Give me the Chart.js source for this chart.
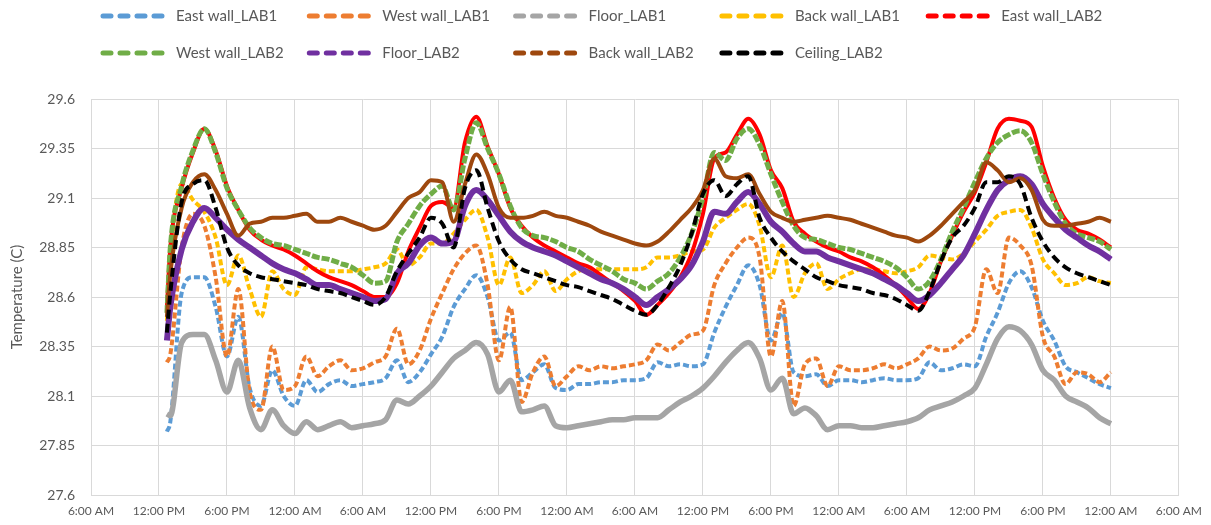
<!DOCTYPE html>
<html>
<head>
<meta charset="utf-8">
<title>Surface temperatures LAB1 / LAB2</title>
<script src="https://cdn.jsdelivr.net/npm/chart.js@4.4.1/dist/chart.umd.min.js"></script>
<style>
  html, body { margin: 0; padding: 0; background: #ffffff; }
  #wrap { width: 1211px; height: 525px; position: relative; }
</style>
</head>
<body>
<div id="wrap"><canvas id="chart" width="1211" height="525"></canvas></div>
<script>
// Logging time, in hours counted from 6:00 AM of the first day
const hours = [
  6.7,
  7, 8, 9, 10, 11, 12, 13, 14, 15, 16, 17, 18,
  19, 20, 21, 22, 23, 24, 25, 26, 27, 28, 29, 30,
  31, 32, 33, 34, 35, 36, 37, 38, 39, 40, 41, 42,
  43, 44, 45, 46, 47, 48, 49, 50, 51, 52, 53, 54,
  55, 56, 57, 58, 59, 60, 61, 62, 63, 64, 65, 66,
  67, 68, 69, 70, 71, 72, 73, 74, 75, 76, 77, 78,
  79, 80, 81, 82, 83, 84, 85, 86, 87, 88, 89, 90
];

// X-axis ticks (hours) and their clock labels
const xTickHours = [0, 6, 12, 18, 24, 30, 36, 42, 48, 54, 60, 66, 72, 78, 84, 90, 96];
const xTickLabels = [
  '6:00 AM', '12:00 PM', '6:00 PM', '12:00 AM',
  '6:00 AM', '12:00 PM', '6:00 PM', '12:00 AM',
  '6:00 AM', '12:00 PM', '6:00 PM', '12:00 AM',
  '6:00 AM', '12:00 PM', '6:00 PM', '12:00 AM',
  '6:00 AM'
];

// Y-axis tick labels (temperature, °C)
const yTickLabels = ['27.6', '27.85', '28.1', '28.35', '28.6', '28.85', '29.1', '29.35', '29.6'];

// Surface temperatures (°C)
const eastWallLab1 = [
  27.92,
  27.97, 28.62, 28.70, 28.70, 28.55, 28.30, 28.50, 28.14, 28.05, 28.23, 28.10, 28.05,
  28.18, 28.12, 28.16, 28.18, 28.15, 28.16, 28.17, 28.19, 28.28, 28.17, 28.22, 28.31,
  28.40, 28.55, 28.64, 28.71, 28.60, 28.38, 28.42, 28.18, 28.22, 28.26, 28.14, 28.13,
  28.16, 28.16, 28.17, 28.17, 28.18, 28.18, 28.19, 28.27, 28.25, 28.26, 28.25, 28.26,
  28.42, 28.55, 28.66, 28.76, 28.66, 28.38, 28.52, 28.22, 28.20, 28.21, 28.15, 28.18,
  28.18, 28.17, 28.18, 28.19, 28.18, 28.18, 28.19, 28.27, 28.23, 28.24, 28.26, 28.25,
  28.40, 28.52, 28.67, 28.73, 28.65, 28.48, 28.38, 28.25, 28.22, 28.19, 28.16, 28.14
];

const westWallLab1 = [
  28.27,
  28.31, 28.85, 29.02, 28.96, 28.70, 28.30, 28.64, 28.12, 28.03, 28.35, 28.13, 28.15,
  28.30, 28.20, 28.25, 28.28, 28.23, 28.24, 28.27, 28.30, 28.44, 28.26, 28.33, 28.49,
  28.62, 28.74, 28.82, 28.86, 28.66, 28.28, 28.55, 28.07, 28.22, 28.30, 28.15, 28.20,
  28.25, 28.23, 28.25, 28.24, 28.25, 28.26, 28.28, 28.36, 28.33, 28.37, 28.41, 28.43,
  28.66, 28.77, 28.85, 28.90, 28.80, 28.30, 28.58, 28.05, 28.26, 28.29, 28.15, 28.25,
  28.23, 28.23, 28.24, 28.26, 28.24, 28.26, 28.29, 28.35, 28.33, 28.34, 28.39, 28.45,
  28.74, 28.62, 28.90, 28.86, 28.76, 28.40, 28.30, 28.16, 28.22, 28.21, 28.17, 28.22
];

const floorLab1 = [
  28.01,
  28.00, 28.37, 28.41, 28.41, 28.28, 28.12, 28.28, 28.04, 27.93, 28.03, 27.95, 27.91,
  27.97, 27.93, 27.95, 27.97, 27.94, 27.95, 27.96, 27.98, 28.08, 28.06, 28.10, 28.15,
  28.22, 28.29, 28.33, 28.37, 28.31, 28.12, 28.18, 28.02, 28.03, 28.05, 27.95, 27.94,
  27.95, 27.96, 27.97, 27.98, 27.98, 27.99, 27.99, 27.99, 28.03, 28.07, 28.10, 28.14,
  28.20, 28.27, 28.33, 28.37, 28.29, 28.13, 28.19, 28.01, 28.04, 28.00, 27.93, 27.95,
  27.95, 27.94, 27.94, 27.95, 27.96, 27.97, 27.99, 28.03, 28.05, 28.07, 28.10, 28.14,
  28.26, 28.39, 28.45, 28.43, 28.36, 28.23, 28.18, 28.10, 28.07, 28.04, 27.99, 27.96
];

const backWallLab1 = [
  28.48,
  28.80, 29.17, 29.09, 29.03, 28.90, 28.66, 28.81, 28.64, 28.50, 28.73, 28.64, 28.61,
  28.75, 28.74, 28.73, 28.73, 28.73, 28.74, 28.75, 28.77, 28.84, 28.76, 28.80, 28.87,
  28.87, 28.92, 28.99, 29.04, 28.90, 28.66, 28.80, 28.62, 28.66, 28.73, 28.63, 28.69,
  28.73, 28.74, 28.74, 28.74, 28.74, 28.74, 28.75, 28.80, 28.80, 28.81, 28.83, 28.84,
  28.95, 29.00, 29.04, 29.07, 28.96, 28.70, 28.86, 28.60, 28.72, 28.77, 28.64, 28.69,
  28.72, 28.74, 28.74, 28.73, 28.72, 28.73, 28.75, 28.81, 28.80, 28.79, 28.82, 28.88,
  28.94, 29.01, 29.03, 29.04, 28.95, 28.79, 28.72, 28.66, 28.67, 28.70, 28.68, 28.67
];

const eastWallLab2 = [
  28.55,
  28.85, 29.15, 29.33, 29.45, 29.34, 29.16, 29.04, 28.94, 28.89, 28.86, 28.84, 28.81,
  28.77, 28.73, 28.70, 28.68, 28.66, 28.63, 28.60, 28.60, 28.67, 28.83, 28.95, 29.06,
  29.08, 29.05, 29.38, 29.51, 29.36, 29.22, 29.05, 28.96, 28.90, 28.86, 28.83, 28.80,
  28.77, 28.75, 28.71, 28.67, 28.63, 28.58, 28.51, 28.56, 28.62, 28.70, 28.82, 29.02,
  29.30, 29.33, 29.42, 29.50, 29.42, 29.24, 29.15, 28.98, 28.92, 28.88, 28.85, 28.83,
  28.80, 28.78, 28.75, 28.71, 28.66, 28.60, 28.54, 28.62, 28.78, 28.91, 29.03, 29.13,
  29.28, 29.45, 29.50, 29.49, 29.46, 29.26, 29.10, 28.99, 28.94, 28.92, 28.89, 28.85
];

const westWallLab2 = [
  28.52,
  28.85, 29.16, 29.34, 29.45, 29.33, 29.15, 29.04, 28.95, 28.90, 28.87, 28.86, 28.84,
  28.82, 28.80, 28.79, 28.77, 28.75, 28.71, 28.67, 28.68, 28.88, 28.97, 29.06, 29.12,
  29.16, 29.04, 29.30, 29.48, 29.35, 29.22, 29.06, 28.95, 28.91, 28.90, 28.88, 28.85,
  28.83, 28.79, 28.76, 28.73, 28.69, 28.67, 28.64, 28.68, 28.72, 28.80, 28.92, 29.10,
  29.33, 29.29, 29.40, 29.45, 29.37, 29.22, 29.08, 28.96, 28.90, 28.89, 28.87, 28.85,
  28.84, 28.82, 28.80, 28.78, 28.75, 28.70, 28.64, 28.68, 28.79, 28.93, 29.05, 29.18,
  29.30, 29.38, 29.42, 29.44, 29.38, 29.22, 29.08, 28.97, 28.92, 28.90, 28.88, 28.84
];

const floorLab2 = [
  28.38,
  28.55, 28.84, 28.98, 29.05, 29.00, 28.94, 28.89, 28.85, 28.81, 28.77, 28.74, 28.72,
  28.69, 28.66, 28.66, 28.64, 28.62, 28.60, 28.58, 28.59, 28.72, 28.77, 28.86, 28.90,
  28.87, 28.88, 29.06, 29.14, 29.09, 29.01, 28.93, 28.88, 28.85, 28.83, 28.81, 28.78,
  28.75, 28.72, 28.69, 28.67, 28.64, 28.60, 28.56, 28.60, 28.64, 28.69, 28.76, 28.88,
  29.03, 29.02, 29.08, 29.13, 29.07, 28.98, 28.93, 28.87, 28.83, 28.83, 28.80, 28.78,
  28.76, 28.74, 28.72, 28.69, 28.66, 28.62, 28.58, 28.61, 28.67, 28.74, 28.81, 28.92,
  29.04, 29.14, 29.19, 29.21, 29.17, 29.07, 29.00, 28.94, 28.90, 28.86, 28.83, 28.79
];

const backWallLab2 = [
  28.50,
  28.72, 29.05, 29.18, 29.22, 29.14, 29.02, 28.91, 28.97, 28.98, 29.00, 29.00, 29.01,
  29.02, 28.98, 28.98, 29.00, 28.98, 28.96, 28.94, 28.96, 29.03, 29.10, 29.13, 29.19,
  29.18, 28.98, 29.17, 29.32, 29.22, 29.05, 29.00, 29.00, 29.01, 29.03, 29.01, 29.00,
  28.98, 28.96, 28.93, 28.91, 28.89, 28.87, 28.86, 28.88, 28.93, 28.99, 29.05, 29.14,
  29.30, 29.21, 29.20, 29.22, 29.12, 29.03, 29.00, 28.98, 28.99, 29.00, 29.01, 29.00,
  28.99, 28.97, 28.95, 28.93, 28.91, 28.90, 28.88, 28.91, 28.96, 29.02, 29.08, 29.14,
  29.28, 29.24, 29.18, 29.20, 29.14, 28.99, 28.96, 28.96, 28.97, 28.98, 29.00, 28.98
];

const ceilingLab2 = [
  28.42,
  28.62, 29.08, 29.17, 29.19, 29.05, 28.85, 28.76, 28.72, 28.70, 28.69, 28.68, 28.67,
  28.66, 28.64, 28.63, 28.62, 28.60, 28.58, 28.56, 28.60, 28.73, 28.82, 28.90, 29.00,
  28.97, 28.85, 29.15, 29.24, 29.05, 28.88, 28.79, 28.74, 28.72, 28.70, 28.68, 28.66,
  28.65, 28.63, 28.61, 28.59, 28.56, 28.53, 28.51, 28.56, 28.65, 28.76, 28.92, 29.12,
  29.19, 29.11, 29.17, 29.21, 29.00, 28.90, 28.83, 28.78, 28.74, 28.70, 28.68, 28.66,
  28.65, 28.64, 28.62, 28.61, 28.59, 28.56, 28.53, 28.63, 28.78, 28.90, 28.96, 29.05,
  29.18, 29.18, 29.21, 29.17, 29.00, 28.88, 28.80, 28.75, 28.72, 28.70, 28.68, 28.66
];

const FONT = 'Lato, "Open Sans", "Liberation Sans", sans-serif';
const TEXT = '#595959';
const GRID = '#d9d9d9';

// series, in plotting order (later ones are drawn on top)
const series = [
  { label: 'East wall_LAB1', data: eastWallLab1, color: '#5b9bd5', width: 4,   dash: [6, 3] },
  { label: 'West wall_LAB1', data: westWallLab1, color: '#ed7d31', width: 4,   dash: [6, 3] },
  { label: 'Floor_LAB1',     data: floorLab1,    color: '#a5a5a5', width: 5.5, dash: [] },
  { label: 'Back wall_LAB1', data: backWallLab1, color: '#ffc000', width: 4,   dash: [6, 3] },
  { label: 'East wall_LAB2', data: eastWallLab2, color: '#ff0000', width: 4,   dash: [] },
  { label: 'West wall_LAB2', data: westWallLab2, color: '#70ad47', width: 5,   dash: [8, 2] },
  { label: 'Floor_LAB2',     data: floorLab2,    color: '#7030a0', width: 6,   dash: [] },
  { label: 'Back wall_LAB2', data: backWallLab2, color: '#9e480e', width: 4,   dash: [] },
  { label: 'Ceiling_LAB2',   data: ceilingLab2,  color: '#000000', width: 4,   dash: [9, 5] }
];

const datasets = series.map((s, i) => ({
  label: s.label,
  data: s.data.map((v, k) => ({ x: hours[k], y: v })),
  borderColor: s.color,
  backgroundColor: s.color,
  borderWidth: s.width,
  borderDash: s.dash,
  borderCapStyle: 'butt',
  pointRadius: 0,
  pointHoverRadius: 0,
  cubicInterpolationMode: 'monotone',
  fill: false,
  order: series.length - 1 - i
}));

// Two-row legend with fixed columns, drawn above the plot
const gridLegend = {
  id: 'gridLegend',
  afterDraw(chart) {
    const ctx = chart.ctx;
    const perRow = 5;
    chart.data.datasets.forEach((ds, i) => {
      const col = i % perRow;
      const row = Math.floor(i / perRow);
      const x = 100 + col * 206.3;
      const y = 16 + row * 37;
      ctx.save();
      ctx.strokeStyle = ds.borderColor;
      ctx.lineWidth = 5;
      ctx.lineCap = 'round';
      ctx.setLineDash([8, 9]);
      ctx.beginPath();
      ctx.moveTo(x + 3, y);
      ctx.lineTo(x + 66, y);
      ctx.stroke();
      ctx.setLineDash([]);
      ctx.fillStyle = TEXT;
      ctx.font = '15px ' + FONT;
      ctx.textBaseline = 'middle';
      ctx.textAlign = 'left';
      ctx.fillText(ds.label, x + 76, y);
      ctx.restore();
    });
  }
};

new Chart(document.getElementById('chart'), {
  type: 'line',
  data: { datasets },
  plugins: [gridLegend],
  options: {
    responsive: false,
    animation: false,
    devicePixelRatio: 1,
    layout: { padding: { top: 99, right: 25, left: 0, bottom: 0 } },
    plugins: {
      legend: { display: false },
      tooltip: { enabled: false }
    },
    scales: {
      x: {
        type: 'linear',
        min: 0,
        max: 96,
        afterBuildTicks: (scale) => { scale.ticks = xTickHours.map(v => ({ value: v })); },
        afterFit: (scale) => { scale.height = 30; },
        ticks: {
          autoSkip: false,
          maxRotation: 0,
          minRotation: 0,
          padding: 9,
          color: TEXT,
          font: { family: FONT, size: 12 },
          callback: (value) => xTickLabels[xTickHours.indexOf(value)]
        },
        grid: { color: GRID, lineWidth: 1, drawTicks: false },
        border: { color: GRID, width: 1 }
      },
      y: {
        type: 'linear',
        min: 27.6,
        max: 29.6,
        afterBuildTicks: (scale) => { scale.ticks = yTickLabels.map(t => ({ value: parseFloat(t) })); },
        afterFit: (scale) => { scale.width = 91; },
        ticks: {
          padding: 16,
          color: TEXT,
          font: { family: FONT, size: 14 },
          callback: (value) => {
            const hit = yTickLabels.find(t => Math.abs(parseFloat(t) - value) < 1e-6);
            return hit === undefined ? '' : hit;
          }
        },
        title: {
          display: true,
          text: 'Temperature (C)',
          color: TEXT,
          font: { family: FONT, size: 15 },
          padding: { top: 8, bottom: 0 }
        },
        grid: { color: GRID, lineWidth: 1, drawTicks: false },
        border: { color: GRID, width: 1 }
      }
    }
  }
});
</script>
</body>
</html>
